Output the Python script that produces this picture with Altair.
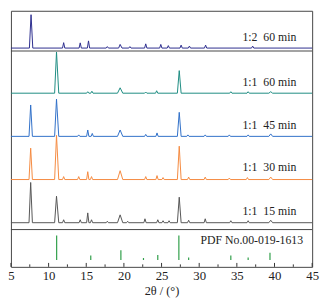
import altair as alt
import pandas as pd

FONT = "Liberation Serif"
SP = "\u00a0\u00a0"

# --- series: 2theta positions and intensities (relative to own baseline) ---
names = ["1:2" + SP + "60 min", "1:1" + SP + "60 min", "1:1" + SP + "45 min",
         "1:1" + SP + "30 min", "1:1" + SP + "15 min"]
colors = ["#2c2d8e", "#1d8c82", "#2f6fc8", "#f58a3f", "#555555"]
offsets = [223, 177, 133, 89, 45]

x_12_60 = [5, 7.45, 7.67, 7.9, 11.85, 12.0, 12.15, 14.05, 14.2, 14.35, 15.15, 15.3, 15.45,
           17.65, 17.8, 17.95, 19.3, 19.5, 19.75, 20.65, 20.8, 20.95, 22.75, 22.9, 23.05,
           24.75, 24.9, 25.05, 25.75, 25.9, 26.05, 27.45, 27.6, 27.75, 28.55, 28.7, 28.85,
           30.7, 30.85, 31.0, 36.95, 37.1, 37.25, 45]
y_12_60 = [0, 0, 34, 0, 0, 5.5, 0, 0, 5.3, 0, 0, 7.3, 0,
           0, 1.5, 0, 0, 3.7, 0, 0, 1.5, 0, 0, 4.3, 0,
           0, 3.7, 0, 0, 2.5, 0, 0, 3, 0, 0, 2, 0,
           0, 3, 0, 0, 2, 0, 0]

x_11_60 = [5, 10.8, 11.05, 11.35, 15.05, 15.2, 15.35, 15.6, 15.75, 15.9, 19.15, 19.5, 19.85,
           22.75, 22.9, 23.05, 24.2, 24.35, 24.5, 27.1, 27.35, 27.6, 34.05, 34.2, 34.35,
           36.35, 36.5, 36.65, 39.25, 39.5, 39.75, 45]
y_11_60 = [0, 0, 42, 0, 0, 1.5, 0, 0, 2, 0, 0, 5.5, 0,
           0, 1.2, 0, 0, 2.5, 0, 0, 23, 0, 0, 1.5, 0,
           0, 1.5, 0, 0, 1.5, 0, 0]

x_11_45 = [5, 7.4, 7.62, 7.85, 10.8, 11.05, 11.35, 13.85, 14.0, 14.15, 15.05, 15.2, 15.35,
           15.65, 15.8, 15.95, 19.15, 19.5, 19.85, 22.75, 22.9, 23.05, 24.25, 24.4, 24.55,
           27.1, 27.35, 27.6, 28.35, 28.5, 28.65, 30.65, 30.8, 30.95, 33.85, 34.0, 34.15,
           36.35, 36.5, 36.65, 39.25, 39.5, 39.75, 45]
y_11_45 = [0, 0, 32, 0, 0, 38, 0, 0, 1.5, 0, 0, 6.5, 0,
           0, 3, 0, 0, 6.5, 0, 0, 2, 0, 0, 3.5, 0,
           0, 24.5, 0, 0, 1.5, 0, 0, 1.5, 0, 0, 1.5, 0,
           0, 1.5, 0, 0, 2.5, 0, 0]

x_11_30 = [5, 7.4, 7.62, 7.85, 10.8, 11.05, 11.35, 11.85, 12.0, 12.15, 13.85, 14.0, 14.15,
           15.05, 15.2, 15.35, 15.55, 15.7, 15.85, 19.15, 19.5, 19.85, 22.75, 22.9, 23.05,
           24.25, 24.4, 24.55, 25.05, 25.2, 25.35, 27.1, 27.35, 27.6, 28.45, 28.6, 28.75,
           30.65, 30.8, 30.95, 33.85, 34.0, 34.15, 36.25, 36.4, 36.55, 39.25, 39.5, 39.75, 45]
y_11_30 = [0, 0, 32, 0, 0, 45, 0, 0, 3, 0, 0, 3, 0,
           0, 8, 0, 0, 3, 0, 0, 9, 0, 0, 3, 0,
           0, 4, 0, 0, 2, 0, 0, 34, 0, 0, 2.5, 0,
           0, 2.5, 0, 0, 1.5, 0, 0, 2, 0, 0, 2.5, 0, 0]

x_11_15 = [5, 7.4, 7.62, 7.85, 10.8, 11.05, 11.35, 11.85, 12.0, 12.15, 14.05, 14.2, 14.35,
           15.05, 15.2, 15.35, 15.55, 15.7, 15.85, 17.65, 17.8, 17.95, 19.15, 19.5, 19.85,
           20.35, 20.5, 20.65, 22.65, 22.8, 22.95, 24.35, 24.5, 24.65, 25.05, 25.2, 25.35,
           25.85, 26.0, 26.15, 27.1, 27.35, 27.6, 28.45, 28.6, 28.75, 30.65, 30.8, 30.95,
           34.05, 34.2, 34.35, 36.35, 36.5, 36.65, 39.25, 39.5, 39.75, 45]
y_11_15 = [0, 0, 41, 0, 0, 27, 0, 0, 3, 0, 0, 3, 0,
           0, 10, 0, 0, 3, 0, 0, 1.5, 0, 0, 8, 0,
           0, 1.5, 0, 0, 4, 0, 0, 3, 0, 0, 2, 0,
           0, 2, 0, 0, 26, 0, 0, 2.5, 0, 0, 4, 0,
           0, 2, 0, 0, 2, 0, 0, 2.5, 0, 0]

series_x = [x_12_60, x_11_60, x_11_45, x_11_30, x_11_15]
series_y = [y_12_60, y_11_60, y_11_45, y_11_30, y_11_15]

# --- reference pattern PDF No.00-019-1613 ---
pdf_pos = [11.07, 15.6, 19.6, 22.6, 24.5, 27.3, 28.6, 34.2, 36.5, 39.4]
pdf_int = [25, 4.5, 10, 2, 5, 25, 2.5, 4.5, 2.5, 7.5]
pdf_base = 7

# --- axis ticks ---
major_ticks = [5, 10, 15, 20, 25, 30, 35, 40, 45]
minor_ticks = [7.5, 12.5, 17.5, 22.5, 27.5, 32.5, 37.5, 42.5]

# panel separators (in y units)
separators = [220, 38]

rows = []
for n, xs, ys, off in zip(names, series_x, series_y, offsets):
    for i, (xv, yv) in enumerate(zip(xs, ys)):
        rows.append({"series": n, "x": xv, "y": yv + off, "i": i})
df = pd.DataFrame(rows)

pdf_df = pd.DataFrame({"x": pdf_pos, "y": [pdf_base] * len(pdf_pos),
                       "y2": [pdf_base + v for v in pdf_int]})
tick_df = pd.DataFrame({"x": major_ticks + minor_ticks,
                        "zero": [0] * (len(major_ticks) + len(minor_ticks)),
                        "len": [4] * len(major_ticks) + [2.5] * len(minor_ticks)})
sep_df = pd.DataFrame({"y": separators})
label_df = pd.DataFrame({"label": names + ["PDF No.00-019-1613"],
                         "y": [o + v for o, v in zip(offsets, [11, 11, 12, 13, 12])] + [27],
                         "x": [42.9] * 5 + [43.8]})

xscale = alt.Scale(domain=[5, 45], nice=False, zero=False)
yscale = alt.Scale(domain=[0, 261], nice=False, zero=False)

xaxis = alt.Axis(values=major_ticks, ticks=False, domain=False, grid=False,
                 labelOverlap=False, labelFlush=False, labelBound=False,
                 title="2θ / (°)")

lines = alt.Chart(df).mark_line(strokeWidth=1).encode(
    x=alt.X("x:Q", scale=xscale, axis=xaxis),
    y=alt.Y("y:Q", scale=yscale, axis=None),
    color=alt.Color("series:N", scale=alt.Scale(domain=names, range=colors), legend=None),
    order="i:Q",
)

sticks = alt.Chart(pdf_df).mark_rule(color="#2e9e48", strokeWidth=1.2).encode(
    x=alt.X("x:Q", scale=xscale, axis=xaxis), y=alt.Y("y:Q", scale=yscale, axis=None), y2="y2:Q")

ticks = alt.Chart(tick_df).mark_rule(color="#333", strokeWidth=1).encode(
    x=alt.X("x:Q", scale=xscale, axis=xaxis), y=alt.Y("zero:Q", scale=yscale, axis=None), y2="len:Q")

seps = alt.Chart(sep_df).mark_rule(color="#444", strokeWidth=1).encode(
    y=alt.Y("y:Q", scale=yscale, axis=None))

labels = alt.Chart(label_df).mark_text(font=FONT, fontSize=12, align="right",
                                       baseline="middle", color="#222").encode(
    x=alt.X("x:Q", scale=xscale, axis=xaxis), y=alt.Y("y:Q", scale=yscale, axis=None),
    text="label:N")

chart = alt.layer(lines, sticks, ticks, seps, labels).properties(
    width=307, height=261,
    padding={"left": 3, "top": 0, "right": 8, "bottom": 34},
    autosize=alt.AutoSizeParams(type="none"),
).configure_view(stroke="#444", strokeWidth=1).configure_axisX(
    labelOverlap=False, labelFont=FONT, labelFontSize=13, labelColor="#222",
    labelPadding=3, titleFont=FONT, titleFontSize=12.5, titleFontWeight="normal",
    titleColor="#222", titlePadding=2,
)

chart.save("out.html", embed_options={"renderer": "svg", "actions": False})
